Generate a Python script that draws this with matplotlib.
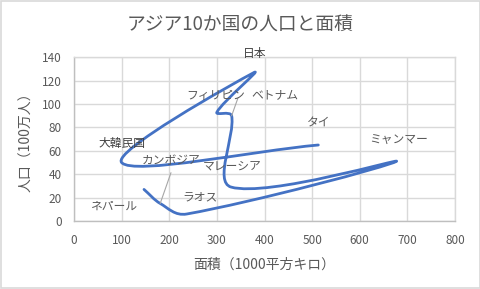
import matplotlib
matplotlib.use("Agg")
import matplotlib.pyplot as plt
import numpy as np
from matplotlib.path import Path
from matplotlib.patches import PathPatch

plt.rcParams['font.family'] = ['Noto Sans CJK JP', 'DejaVu Sans']

# Data (series order as drawn)
countries = ['ネパール', 'カンボジア', 'ラオス', 'ミャンマー', 'マレーシア',
             'ベトナム', 'フィリピン', '日本', '大韓民国', 'タイ']
area = [147, 181, 237, 677, 330, 331, 300, 378, 100, 513]      # 1000 km2
population = [27, 15, 6, 51, 29, 90, 93, 127, 50, 65]          # million

x_ticks = [0, 100, 200, 300, 400, 500, 600, 700, 800]
y_ticks = [0, 20, 40, 60, 80, 100, 120, 140]

# label positions (data coords) - styling only
label_pos = {
    'ネパール': (84, 12.5), 'カンボジア': (204, 51.6), 'ラオス': (265, 21),
    'ミャンマー': (682, 68.7), 'マレーシア': (333, 47), 'ベトナム': (422, 107.7),
    'フィリピン': (297, 107.7), '日本': (380, 143.2), '大韓民国': (101, 65.9),
    'タイ': (513.7, 83.5),
}
leader_start = {'ベトナム': (344, 104.9), 'カンボジア': (203.6, 41.3)}

fig = plt.figure(figsize=(4.81, 2.89), dpi=100)
fig.patch.set_facecolor('white')
ax = fig.add_axes([74/481, 1-221/289, (455-74)/481, (221-57.3)/289])
ax.set_xlim(0, 800)
ax.set_ylim(0, 140)

# Smooth line (weighted cardinal spline -> cubic Bezier), like Excel's smoothed scatter
pts = np.column_stack([area, population]).astype(float)
scale = np.array([381/800, 163.7/140])   # screen aspect for distance weighting
n = len(pts)

def dist(a, b):
    return np.hypot(*((a - b) * scale)) ** 0.85

verts = [pts[0]]
codes = [Path.MOVETO]
for i in range(n - 1):
    p0 = pts[i - 1] if i > 0 else pts[i]
    p1 = pts[i]
    p2 = pts[i + 1]
    p3 = pts[i + 2] if i + 2 < n else pts[i + 1]
    d01, d12, d23 = dist(p0, p1), dist(p1, p2), dist(p2, p3)
    w1 = d12 / (d01 + d12) if d01 + d12 > 0 else 0.5
    w2 = d12 / (d12 + d23) if d12 + d23 > 0 else 0.5
    c1 = p1 + (p2 - p0) * w1 / 3.0
    c2 = p2 - (p3 - p1) * w2 / 3.0
    verts += [c1, c2, p2]
    codes += [Path.CURVE4] * 3
path = Path(verts, codes)
ax.add_patch(PathPatch(path, facecolor='none', edgecolor='#4472C4',
                       linewidth=2.0, capstyle='round', joinstyle='round', zorder=3))

ax.set_xticks(x_ticks)
ax.set_yticks(y_ticks)
ax.grid(True, color='#D9D9D9', linewidth=1.0, zorder=0)
ax.set_axisbelow(True)
for s in ax.spines.values():
    s.set_color('#D9D9D9')
    s.set_linewidth(1.0)
ax.spines['left'].set_color('#BFBFBF')
ax.spines['bottom'].set_color('#BFBFBF')
ax.tick_params(length=0, labelsize=8.5, labelcolor='#595959', pad=9)

ax.set_xlabel('面積（1000平方キロ）', fontsize=10, color='#595959', labelpad=8)
ax.set_ylabel('人口（100万人）', fontsize=10, color='#595959', labelpad=6)
fig.text(240.5/481, 1-25/289, 'アジア10か国の人口と面積', fontsize=13.5,
         color='#595959', ha='center', va='center')

for name, x, y in zip(countries, area, population):
    tx, ty = label_pos[name]
    dark = name in ('日本', '大韓民国')
    ax.text(tx, ty, name, fontsize=8.5, color='#404040' if dark else '#595959',
            ha='center', va='center', zorder=4, clip_on=False)
    if name in leader_start:
        sx, sy = leader_start[name]
        ax.annotate('', xy=(x, y), xytext=(sx, sy),
                    arrowprops=dict(arrowstyle='-', color='#A6A6A6', lw=0.8,
                                    shrinkA=0, shrinkB=0), zorder=4)

# outer chart border
fig.add_artist(plt.Rectangle((0.002, 0.003), 0.996, 0.994, transform=fig.transFigure,
                             fill=False, edgecolor='#D9D9D9', linewidth=1.2))

fig.savefig('out.png', dpi=100, facecolor='white')
